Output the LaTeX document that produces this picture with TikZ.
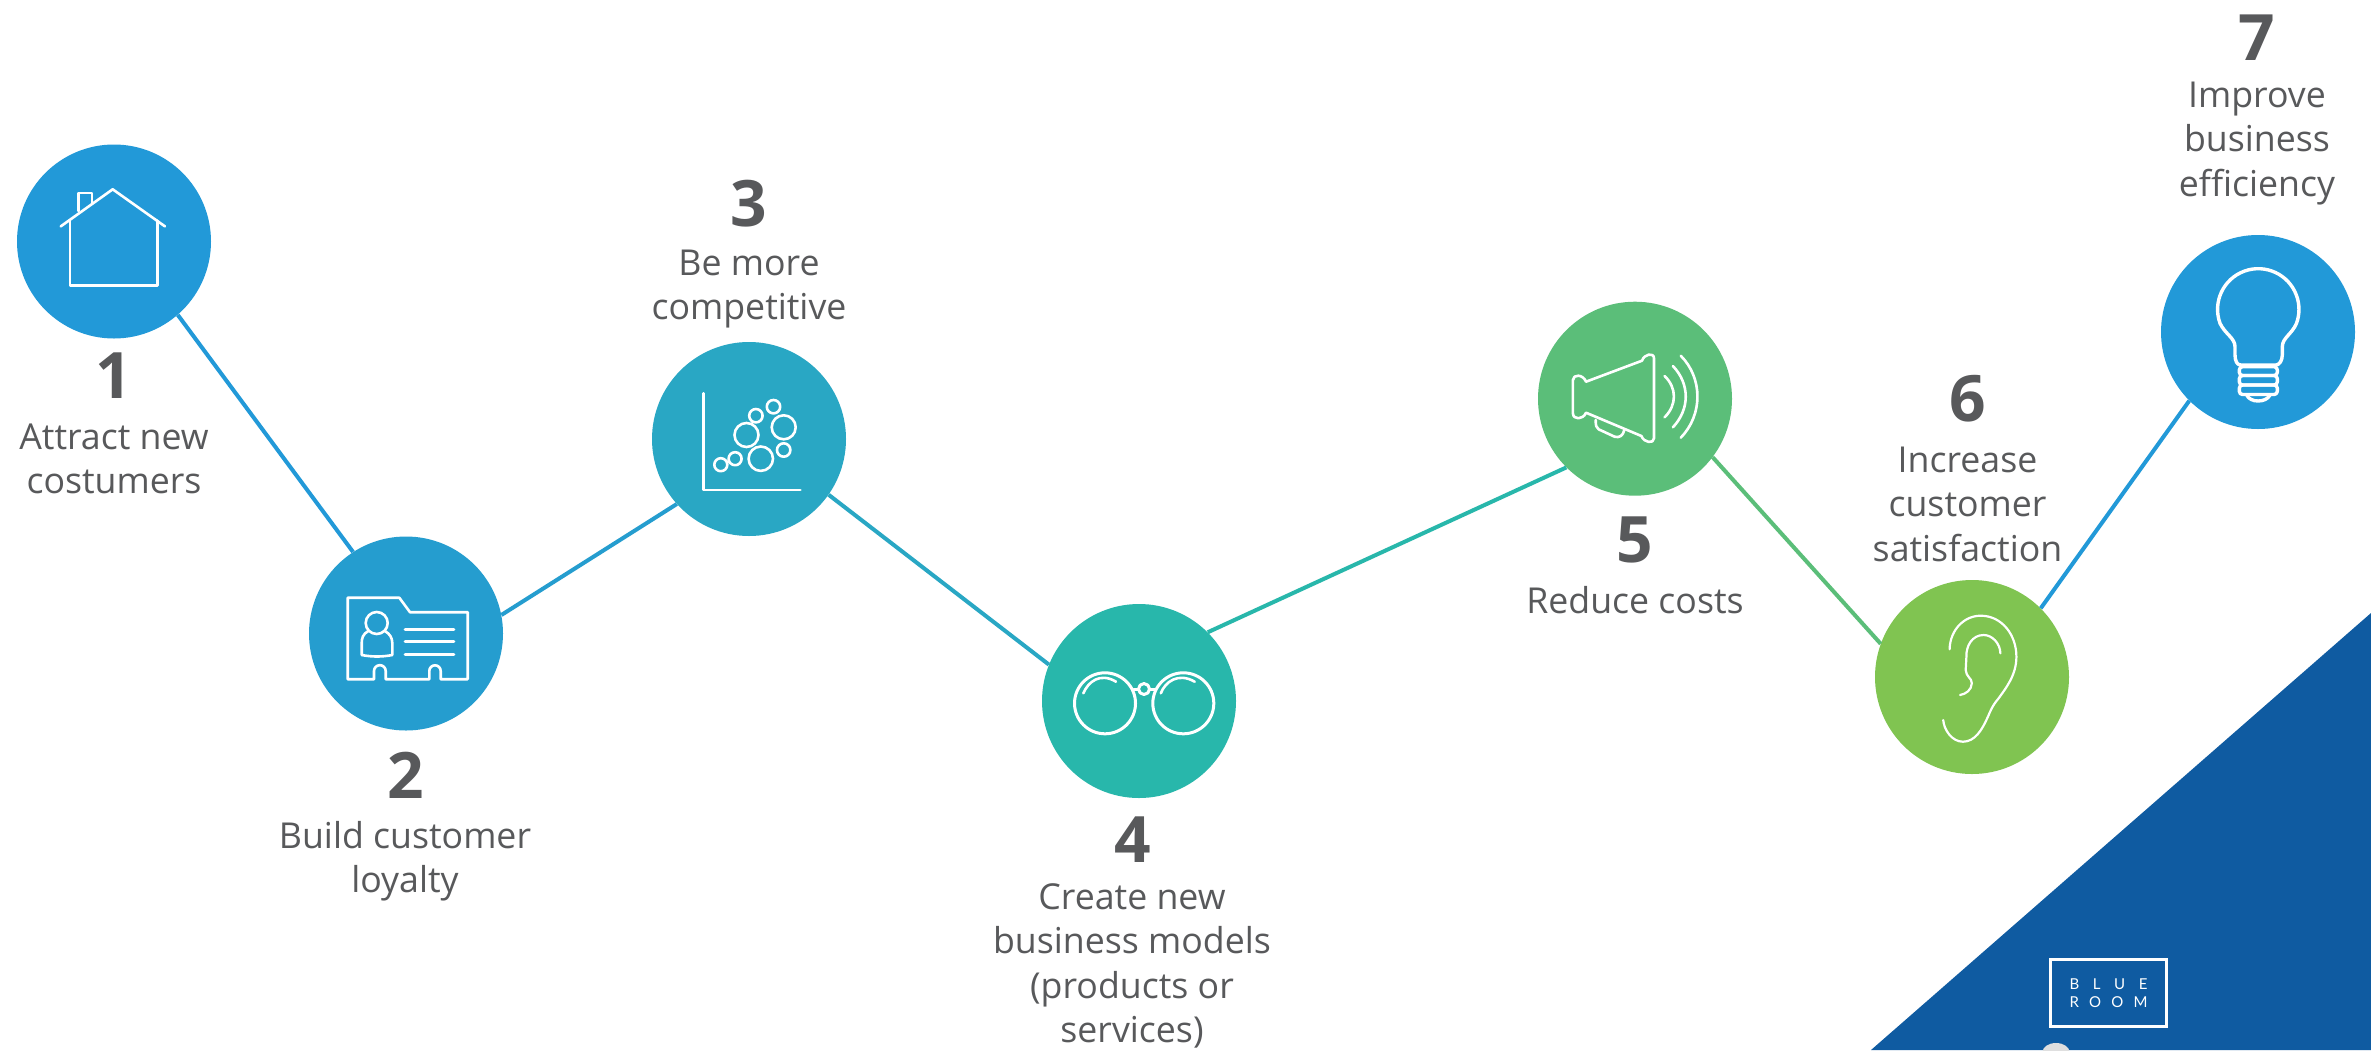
\documentclass[tikz,border=0pt]{standalone}
\usepackage{fontspec}
\setmainfont{Open Sans}[Ligatures=NoCommon]
\newfontfamily\logofont{Lato}
\begin{document}
\begin{tikzpicture}[x=1pt,y=-1pt,
  dot/.style={circle,inner sep=0pt,minimum size=194pt,draw=none},
  link/.style={line width=4pt},
  icon/.style={draw=white,line width=2.6pt,line join=round,line cap=round},
  thin icon/.style={draw=white,line width=2.2pt,line join=round,line cap=round},
  numtext/.style={anchor=base,inner sep=0pt,text=txtgrey,font=\fontsize{64}{64}\selectfont\bfseries},
  lbl/.style={anchor=north,inner sep=0pt,align=center,text=txtgrey,font=\fontsize{35.7}{44.5}\selectfont},
]
\definecolor{txtgrey}{HTML}{58595B}
\definecolor{cA}{HTML}{2299D8}
\definecolor{cB}{HTML}{259DCF}
\definecolor{cC}{HTML}{29A7C4}
\definecolor{cD}{HTML}{28B7AB}
\definecolor{cE}{HTML}{5BBE79}
\definecolor{cF}{HTML}{80C451}
\definecolor{navy}{HTML}{0F5BA1}
\useasboundingbox (0,0) rectangle (2371,1050);
\fill[white] (0,0) rectangle (2371,1050);
% corner
\fill[navy] (1871,1050) -- (2371,613) -- (2371,1050) -- cycle;
\begin{scope}
\clip (0,0) rectangle (2371,1050);
\fill[gray!25] (2056,1052) ellipse [x radius=13.5,y radius=9];
\end{scope}
\node[draw=white,line width=2.6pt,minimum width=116pt,minimum height=67pt,inner sep=0pt] (logo) at (2108.5,993) {};
\node[inner sep=0pt,anchor=base,text=white,font=\logofont\fontsize{15}{15}\selectfont] (logoa) at (2108.5,989) {\makebox[78pt]{B\hfill L\hfill U\hfill E}};
\node[inner sep=0pt,anchor=base,text=white,font=\logofont\fontsize{15}{15}\selectfont] (logob) at (2108.5,1007.7) {\makebox[78pt]{R\hfill O\hfill O\hfill M}};
% circles
\node[dot,fill=cA] (c1) at (114,241.5) {};
\node[dot,fill=cB] (c2) at (406,633.5) {};
\node[dot,fill=cC] (c3) at (749,439) {};
\node[dot,fill=cD] (c4) at (1139,701) {};
\node[dot,fill=cE] (c5) at (1635,398.7) {};
\node[dot,fill=cF] (c6) at (1972,677) {};
\node[dot,fill=cA] (c7) at (2258,332) {};
% connectors
\draw[link,cA] (c1.-49.5) -- (c2.123.4);
\draw[link,cB] (c2.11.5) -- (c3.222);
\draw[link,cC] (c3.-35) -- (c4.158);
\draw[link,cD] (c4.45) -- (c5.225);
\draw[link,cE] (c5.-37) -- (c6.160.6);
\draw[link,cA] (c6.45) -- (c7.225.6);
% texts
\node[numtext] (n1) at (114,398) {1};
\node[lbl] (t1) at (114,449-31.15) {\strut Attract new\\costumers};
\node[numtext] (n2) at (406,798) {2};
\node[lbl] (t2) at (405,848-31.15) {\strut Build customer\\loyalty};
\node[numtext] (n3) at (749,226) {3};
\node[lbl] (t3) at (749,275-31.15) {\strut Be more\\competitive};
\node[numtext] (n4) at (1133,862) {4};
\node[lbl] (t4) at (1132,909-31.15) {\strut Create new\\business models\\(products or\\services)};
\node[numtext] (n5) at (1635,562) {5};
\node[lbl] (t5) at (1635,613-31.15) {\strut Reduce costs};
\node[numtext] (n6) at (1967.5,421) {6};
\node[lbl] (t6) at (1967.5,472-31.15) {\strut Increase\\customer\\satisfaction};
\node[numtext] (n7) at (2257,60) {7};
\node[lbl] (t7) at (2257,107-31.15) {\strut Improve\\business\\efficiency};
% icon 1: house
\draw[icon] (60.7,226.4) -- (112.7,189.3) -- (165,226.4);
\draw[icon] (70,220.7) -- (70,285.4) -- (157.3,285.4) -- (157.3,220.7);
\draw[icon] (78.7,211) -- (78.7,193) -- (92,193) -- (92,202.7);
% icon 2: card
\draw[icon] (347.7,597.7) -- (399.3,597.7) -- (410,612.2) -- (467.7,612.2) -- (467.7,679.2) -- (440.7,679.2) -- (440.7,671) arc[start angle=0,end angle=-180,radius=5.7] -- (429.3,679.2) -- (385.7,679.2) -- (385.7,671) arc[start angle=0,end angle=-180,radius=5.85] -- (374,679.2) -- (347.7,679.2) -- cycle;
\draw[icon] (376.7,623) circle[radius=11];
\draw[icon] (368.3,631) .. controls (363,634) and (361.7,638) .. (361.7,643) -- (361.7,655) .. controls (372,657) and (382,657) .. (392.3,655) -- (392.3,643) .. controls (392.3,638) and (390,634) .. (385,631);
\draw[icon] (405,629.4) -- (454,629.4) (405,641.7) -- (454,641.7) (405,654.3) -- (454,654.3);
% icon 3: chart
\draw[icon] (703.7,393.3) -- (703.7,490) -- (800.4,490);
\draw[icon] (720.8,464.7) circle[radius=6.5] (735.1,458.7) circle[radius=6.5] (760.8,458.7) circle[radius=12.2] (783.7,450) circle[radius=6.7] (746.5,435) circle[radius=12] (783.7,427.3) circle[radius=12] (755.9,415.7) circle[radius=6.7] (773.5,406.7) circle[radius=6.7];
% icon 4: glasses
\draw[icon,line width=3pt] (1105,703.3) circle[radius=30.5] (1183.3,703.3) circle[radius=30.5] (1144,689) circle[radius=5.5];
\draw[icon,line width=3pt] (1133.5,689) -- (1138.5,689) (1149.5,689) -- (1154.7,689);
\draw[icon] (1083.3,693.3) .. controls (1088,682) and (1100,672) .. (1116,681.7);
\draw[icon] (1160.8,693.3) .. controls (1165,682) and (1178,672) .. (1194.7,681.7);
% icon 5: megaphone
\draw[icon] (1586,381.7) -- (1642,360.7) .. controls (1644,354) and (1654,352) .. (1654,358.3) -- (1654,438.3) .. controls (1654,444) and (1644,443) .. (1641.4,436) -- (1586,412.7) .. controls (1583,420) and (1573,420) .. (1572.9,413.3) -- (1572.9,380) .. controls (1573,374) and (1583,374) .. (1586,381.7) -- cycle;
\draw[icon] (1595.7,420) .. controls (1595.7,425) and (1596,428) .. (1598.6,429.3) -- (1614.6,436.7) .. controls (1619,438) and (1623,436) .. (1624.3,430);
\draw[icon] (1664.6,376) .. controls (1677,388) and (1677,405) .. (1664.6,417.3);
\draw[icon] (1672.9,366) .. controls (1690,384) and (1690,409) .. (1672.9,427.3);
\draw[icon] (1680.7,355.7) .. controls (1703,378) and (1703,415) .. (1680.7,437.7);
% icon 6: ear
\draw[thin icon] (1949.6,649.3) .. controls (1950,630) and (1964,615.7) .. (1980.7,615.7) .. controls (2002,615.7) and (2016.4,635) .. (2016.4,656.7) .. controls (2016.4,675) and (2006,688) .. (1998.6,698.3) .. controls (1992,706) and (1990,712) .. (1987.9,716.7) .. controls (1982,730) and (1975,741.7) .. (1962.9,741.7) .. controls (1952,741.7) and (1944,730) .. (1943.2,720);
\draw[thin icon] (2000.4,653.3) .. controls (2000,643) and (1992,635) .. (1983.6,635) .. controls (1972,635) and (1966,646) .. (1966.4,656.7) -- (1965.7,670) .. controls (1966,677) and (1972,678) .. (1971.8,683.3) .. controls (1971.5,690) and (1966,694) .. (1960,695);
% icon 7: bulb
\draw[icon,line width=3.4pt] (2220,323.3) arc[start angle=160,end angle=380,radius=40.7] .. controls (2292,334) and (2282.3,338) .. (2282.3,346.7) -- (2282.3,355) .. controls (2282.3,361) and (2279,365) .. (2276,365) -- (2240.7,365) .. controls (2237,365) and (2235,361) .. (2235,355) -- (2235,346.7) .. controls (2235,338) and (2225,334) .. (2220,323.3) -- cycle;
\draw[icon,line width=3.4pt,rounded corners=3.2pt] (2239.3,366.7) rectangle (2277.3,375.5);
\draw[icon,line width=3.4pt,rounded corners=3.2pt] (2239.3,375.5) rectangle (2277.3,385);
\draw[icon,line width=3.4pt,rounded corners=3.2pt] (2239.3,385) rectangle (2277.3,394.5);
\draw[icon,line width=3.4pt] (2246.7,395) .. controls (2250,403) and (2266,403) .. (2270,395);
\end{tikzpicture}
\end{document}
